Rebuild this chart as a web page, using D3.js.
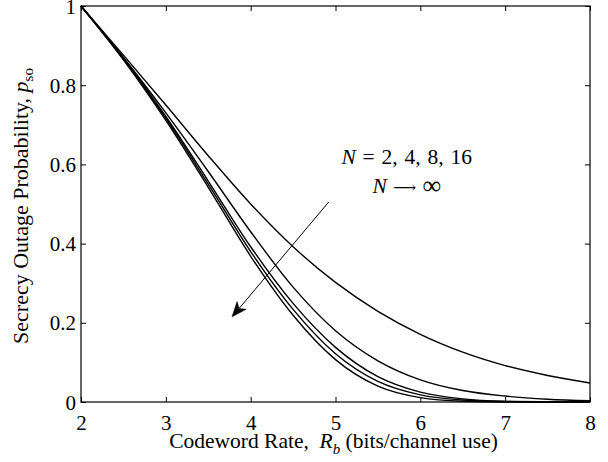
<!DOCTYPE html>
<html>
<head>
<meta charset="utf-8">
<script src="https://cdn.jsdelivr.net/npm/d3@7"></script>
<style>
  html, body { margin: 0; padding: 0; background: #fff; }
  svg { display: block; }
  text { font-family: "Liberation Serif", "Times New Roman", serif; fill: #000; }
</style>
</head>
<body>
<svg id="chart" width="608" height="462"></svg>
<script>
// ---- data ----
const rates = [2, 2.5, 3, 3.5, 4, 4.5, 5, 5.5, 6, 6.5, 7, 7.5, 8];
const pN2   = [1, 0.876, 0.750, 0.622, 0.500, 0.392, 0.302, 0.229, 0.171, 0.126, 0.092, 0.067, 0.048];
const pN4   = [1, 0.870, 0.730, 0.582, 0.430, 0.290, 0.180, 0.104, 0.056, 0.029, 0.015, 0.007, 0.003];
const pN8   = [1, 0.868, 0.721, 0.558, 0.392, 0.249, 0.138, 0.064, 0.025, 0.008, 0.002, 0.0005, 0.000];
const pN16  = [1, 0.866, 0.716, 0.550, 0.380, 0.234, 0.122, 0.052, 0.018, 0.005, 0.001, 0.000, 0.000];
const pNinf = [1, 0.864, 0.711, 0.542, 0.368, 0.219, 0.107, 0.040, 0.011, 0.002, 0.000, 0.000, 0.000];
const seriesList = [pN2, pN4, pN8, pN16, pNinf];
const xTicks = [2, 3, 4, 5, 6, 7, 8];
const yTicks = [0, 0.2, 0.4, 0.6, 0.8, 1];
const yTickLabels = ["0", "0.2", "0.4", "0.6", "0.8", "1"];
const annoLine1 = [" = 2, 4, 8, 16"];
const annoLine2 = ["\u27F6", "\u221E"];
const annoPos = { x: 5.84, y1: 0.602, y2: 0.527 };
const arrowFrom = { x: 4.92, y: 0.505 };
const arrowTo = { x: 3.78, y: 0.215 };

(function () {
// ---- layout ----
const svg = d3.select("#chart");
const mL = 81, mR = 590, mT = 6, mB = 402;
const x = d3.scaleLinear().domain([2, 8]).range([mL, mR]);
const y = d3.scaleLinear().domain([0, 1]).range([mB, mT]);
const FS = 21;
const SERIF = '"Liberation Serif", "Times New Roman", serif';

// axes (ticks inside, on all four sides)
const gB = svg.append("g").attr("transform", `translate(0,${mB})`)
  .call(d3.axisBottom(x).tickValues(xTicks).tickSize(-5).tickPadding(13).tickFormat(d3.format("d")));
const gT = svg.append("g").attr("transform", `translate(0,${mT})`)
  .call(d3.axisTop(x).tickValues(xTicks).tickSize(-5).tickFormat(""));
const gL = svg.append("g").attr("transform", `translate(${mL},0)`)
  .call(d3.axisLeft(y).tickValues(yTicks).tickSize(-5).tickPadding(5).tickFormat((d, i) => yTickLabels[i]));
const gR = svg.append("g").attr("transform", `translate(${mR},0)`)
  .call(d3.axisRight(y).tickValues(yTicks).tickSize(-5).tickFormat(""));
[gB, gT, gL, gR].forEach(g => {
  g.attr("font-family", null).attr("font-size", null);
  g.select(".domain").remove();
  g.selectAll(".tick line").attr("stroke", "#000").attr("stroke-width", 1);
  g.selectAll("text").style("font-size", FS + "px").style("font-family", SERIF).attr("fill", "#000");
});
gB.selectAll(".tick text").attr("dy", "0.70em");
gL.selectAll(".tick text").attr("dy", "0.34em");

// curves
const line = d3.line().x((d, i) => x(rates[i])).y(d => y(d)).curve(d3.curveMonotoneX);
svg.append("g").selectAll("path").data(seriesList).join("path")
  .attr("d", line).attr("fill", "none").attr("stroke", "#000").attr("stroke-width", 1.4);

// frame
svg.append("rect").attr("x", mL).attr("y", mT).attr("width", mR - mL).attr("height", mB - mT)
  .attr("fill", "none").attr("stroke", "#000").attr("stroke-width", 1.2);

// x label
const xl = svg.append("text").attr("x", (mL + mR) / 2 - 2).attr("y", 448)
  .attr("text-anchor", "middle").style("font-size", "21.5px");
xl.append("tspan").text("Codeword Rate,\u00A0 ");
xl.append("tspan").attr("font-style", "italic").text("R");
xl.append("tspan").attr("font-style", "italic").style("font-size", "15px").attr("dy", 6).text("b");
xl.append("tspan").attr("dy", -6).text(" (bits/channel use)");

// y label
const yl = svg.append("text").attr("transform", `translate(28,${(mT + mB) / 2 + 2}) rotate(-90)`)
  .attr("text-anchor", "middle").style("font-size", "22px");
yl.append("tspan").text("Secrecy Outage Probability, ");
yl.append("tspan").attr("font-style", "italic").text("p");
yl.append("tspan").style("font-size", "15px").attr("dy", 5).text("so");

// annotation
const a1 = svg.append("text").attr("x", x(annoPos.x)).attr("y", y(annoPos.y1))
  .attr("text-anchor", "middle").style("font-size", "21.5px").style("word-spacing", "1.5px");
a1.append("tspan").attr("font-style", "italic").text("N");
a1.append("tspan").text(annoLine1[0]);
const a2 = svg.append("text").attr("x", x(annoPos.x)).attr("y", y(annoPos.y2))
  .attr("text-anchor", "middle").style("font-size", "21.5px").style("word-spacing", "1px");
a2.append("tspan").attr("font-style", "italic").text("N");
a2.append("tspan").text(" ");
a2.append("tspan").style("font-family", '"DejaVu Serif", "DejaVu Sans", serif').style("font-size", "16px").text(annoLine2[0]);
a2.append("tspan").text(" ");
a2.append("tspan").style("font-size", "26px").attr("dy", 1).text(annoLine2[1]);

// arrow
const x0 = x(arrowFrom.x), y0 = y(arrowFrom.y), x1 = x(arrowTo.x), y1 = y(arrowTo.y);
const ang = Math.atan2(y1 - y0, x1 - x0);
const hl = 15, hw = 6, notch = 11;
const ux = Math.cos(ang), uy = Math.sin(ang), px = -uy, py = ux;
svg.append("line").attr("x1", x0).attr("y1", y0).attr("x2", x1 - ux * notch).attr("y2", y1 - uy * notch)
  .attr("stroke", "#000").attr("stroke-width", 1);
const bx = x1 - ux * hl, by = y1 - uy * hl;
const nx = x1 - ux * notch, ny = y1 - uy * notch;
svg.append("path")
  .attr("d", `M${x1},${y1} L${bx + px * hw},${by + py * hw} L${nx},${ny} L${bx - px * hw},${by - py * hw} Z`)
  .attr("fill", "#000").attr("stroke", "#000").attr("stroke-width", 0.5);
})();
</script>
</body>
</html>
